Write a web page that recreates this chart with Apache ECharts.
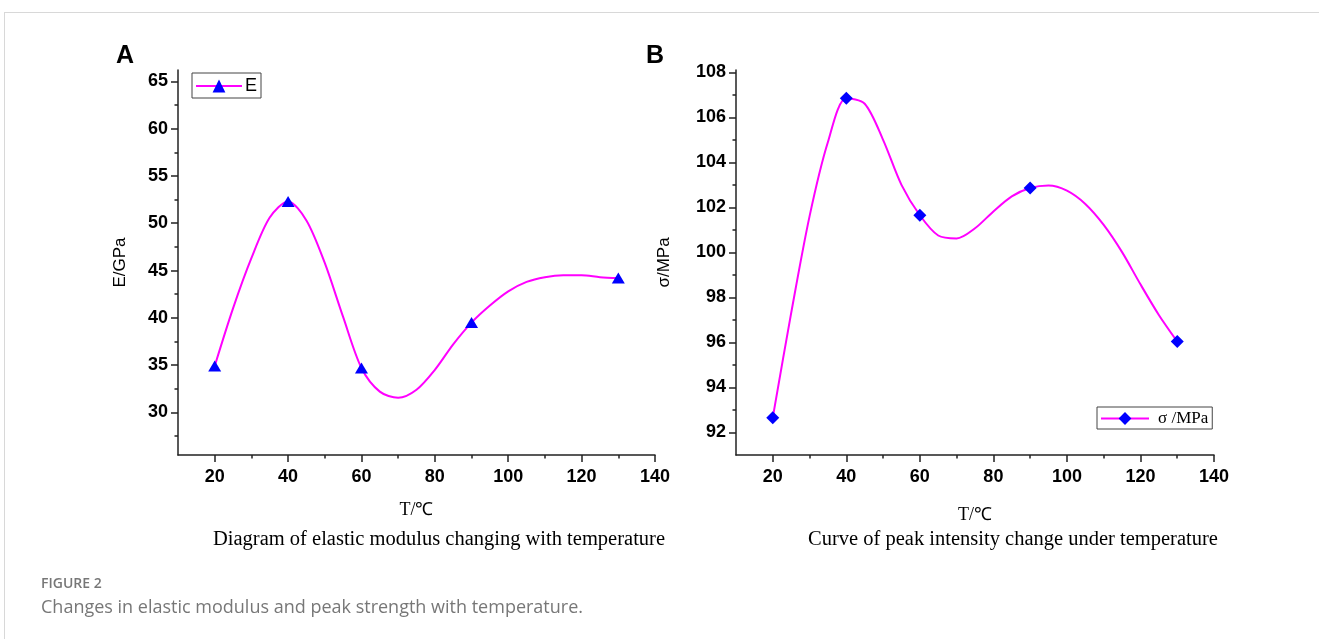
<!DOCTYPE html>
<html>
<head>
<meta charset="utf-8">
<script src="https://cdn.jsdelivr.net/npm/echarts@6/dist/echarts.min.js"></script>
<style>
  html, body { margin: 0; padding: 0; background: #fff; }
  #frame { position: absolute; left: 4px; top: 12px; right: 0; bottom: 0; border-top: 1px solid #d8d8d8; border-left: 1px solid #d8d8d8; }
  #main { position: absolute; left: 0; top: 0; width: 1319px; height: 639px; }
</style>
</head>
<body>
<div id="frame"></div>
<div id="main"></div>
<script>
// measured points
var tempA = [20, 40, 60, 90, 130]
var modulusE = [34.9, 52.3, 34.7, 39.5, 44.2]
var tempB = [20, 40, 60, 90, 130]
var peakStrength = [92.66, 106.84, 101.65, 102.86, 96.04]

var curveTempA = [25, 30, 35, 45, 50, 55, 65, 70, 75, 80, 85, 95, 100, 105, 110, 115, 120, 125]
var curveE = [41.0, 46.3, 50.6, 50.3, 45.8, 40.1, 32.2, 31.55, 32.4, 34.5, 37.2, 41.3, 42.8, 43.8, 44.3, 44.5, 44.5, 44.3]
var curveTempB = [25, 30, 35, 45, 50, 55, 65, 70, 75, 80, 85, 95, 100, 105, 110, 115, 120, 125]
var curveSigma = [97.3, 101.6, 104.9, 106.6, 105.0, 103.0, 100.75, 100.62, 101.07, 101.82, 102.49, 102.97, 102.74, 102.15, 101.22, 100.01, 98.58, 97.22]

// axis ticks
var xMajor = [20, 40, 60, 80, 100, 120, 140]
var xMinor = [30, 50, 70, 90, 110, 130]
var yMajorA = [30, 35, 40, 45, 50, 55, 60, 65]
var yMinorA = [27.5, 32.5, 37.5, 42.5, 47.5, 52.5, 57.5, 62.5]
var yMajorB = [92, 94, 96, 98, 100, 102, 104, 106, 108]
var yMinorB = [93, 95, 97, 99, 101, 103, 105, 107]

function mergeLine (px, py, cx, cy) {
  var pts = []
  px.forEach(function (x, i) { pts.push({ value: [x, py[i]] }) })
  cx.forEach(function (x, i) { pts.push({ value: [x, cy[i]], symbol: 'none' }) })
  pts.sort(function (a, b) { return a.value[0] - b.value[0] })
  return pts
}

var axisColor = '#222'
var labelFont = { fontFamily: 'Liberation Sans, Arial', fontWeight: 'bold', fontSize: 18, color: '#000' }

function majorX (grid, nameGap) {
  return {
    type: 'value', gridIndex: grid, min: 10, max: 140, position: 'bottom',
    name: 'T/℃', nameLocation: 'middle', nameGap: nameGap,
    nameTextStyle: { fontFamily: 'Liberation Serif, serif', fontSize: 18, color: '#000' },
    axisLine: { show: true, lineStyle: { color: axisColor, width: 1.5 } },
    axisTick: { show: true, length: 7, customValues: xMajor, lineStyle: { color: axisColor, width: 1.5 } },
    axisLabel: Object.assign({ customValues: xMajor, margin: 13 }, labelFont),
    splitLine: { show: false }
  }
}
function minorX (grid) {
  return {
    type: 'value', gridIndex: grid, min: 10, max: 140, position: 'bottom',
    axisLine: { show: false },
    axisTick: { show: true, length: 3.5, customValues: xMinor, lineStyle: { color: axisColor, width: 1.5 } },
    axisLabel: { show: false },
    splitLine: { show: false }
  }
}
function majorY (grid, min, max, ticks, name, nameGap) {
  return {
    type: 'value', gridIndex: grid, min: min, max: max, position: 'left',
    name: name, nameLocation: 'middle', nameGap: nameGap,
    nameTextStyle: { fontFamily: 'Liberation Sans, Arial', fontSize: 17, color: '#000' },
    axisLine: { show: true, lineStyle: { color: axisColor, width: 1.5 } },
    axisTick: { show: true, length: 7, customValues: ticks, lineStyle: { color: axisColor, width: 1.5 } },
    axisLabel: Object.assign({ customValues: ticks, margin: 10 }, labelFont),
    splitLine: { show: false }
  }
}
function minorY (grid, min, max, ticks) {
  return {
    type: 'value', gridIndex: grid, min: min, max: max, position: 'left',
    axisLine: { show: false },
    axisTick: { show: true, length: 3.5, customValues: ticks, lineStyle: { color: axisColor, width: 1.5 } },
    axisLabel: { show: false },
    splitLine: { show: false }
  }
}

var chart = echarts.init(document.getElementById('main'), null, { renderer: 'canvas' })

var option = {
  animation: false,
  title: [
    { text: 'A', left: 111, top: 39, textStyle: { fontFamily: 'Liberation Sans, Arial', fontWeight: 'bold', fontSize: 25, color: '#000' } },
    { text: 'B', left: 641, top: 39, textStyle: { fontFamily: 'Liberation Sans, Arial', fontWeight: 'bold', fontSize: 25, color: '#000' } },
    { text: 'Diagram of elastic modulus changing with temperature', left: 434, top: 524, textAlign: 'center',
      textStyle: { fontFamily: 'Liberation Serif, serif', fontWeight: 'normal', fontSize: 20.5, color: '#000' } },
    { text: 'Curve of peak intensity change under temperature', left: 1008, top: 524, textAlign: 'center',
      textStyle: { fontFamily: 'Liberation Serif, serif', fontWeight: 'normal', fontSize: 20.5, color: '#000' } },
    { text: 'FIGURE 2', left: 36, top: 572, textStyle: { fontFamily: 'Open Sans', fontWeight: 600, fontSize: 14, color: '#777' } },
    { text: 'Changes in elastic modulus and peak strength with temperature.', left: 36, top: 594,
      textStyle: { fontFamily: 'Open Sans', fontWeight: 'normal', fontSize: 18, color: '#777' } }
  ],
  legend: [
    {
      data: ['E'], left: 192, top: 73, orient: 'vertical',
      borderColor: '#444', borderWidth: 1, borderRadius: 0, padding: [4, 4, 3, 3],
      itemWidth: 46, itemHeight: 16, itemGap: 0,
      textStyle: { fontFamily: 'Liberation Sans, Arial', fontSize: 18, color: '#000', padding: [0, 0, 0, -2] }
    },
    {
      data: ['σ /MPa'], left: 1097, top: 407, orient: 'vertical',
      borderColor: '#444', borderWidth: 1, borderRadius: 0, padding: [3, 4, 2, 3],
      itemWidth: 48, itemHeight: 16, itemGap: 0,
      textStyle: { fontFamily: 'Liberation Serif, serif', fontSize: 17, color: '#000', padding: [0, 0, 0, 4] }
    }
  ],
  grid: [
    { left: 178, top: 70, width: 477, height: 385 },
    { left: 736, top: 70, width: 478, height: 385 }
  ],
  xAxis: [majorX(0, 46), minorX(0), majorX(1, 51), minorX(1)],
  yAxis: [
    majorY(0, 25.5, 66.2, yMajorA, 'E/GPa', 49),
    minorY(0, 25.5, 66.2, yMinorA),
    majorY(1, 91, 108.1, yMajorB, 'σ/MPa', 63),
    minorY(1, 91, 108.1, yMinorB)
  ],
  series: [
    {
      name: 'E', type: 'line', xAxisIndex: 0, yAxisIndex: 0,
      data: mergeLine(tempA, modulusE, curveTempA, curveE),
      smooth: 0.3, symbol: 'triangle', symbolSize: [13, 11], showSymbol: true, showAllSymbol: true,
      lineStyle: { color: '#ff00ff', width: 2 },
      itemStyle: { color: '#0000ff' },
      z: 5
    },
    {
      name: 'σ /MPa', type: 'line', xAxisIndex: 2, yAxisIndex: 2,
      data: mergeLine(tempB, peakStrength, curveTempB, curveSigma),
      smooth: 0.3, symbol: 'diamond', symbolSize: 13, showSymbol: true, showAllSymbol: true,
      lineStyle: { color: '#ff00ff', width: 2 },
      itemStyle: { color: '#0000ff' },
      z: 5
    }
  ]
}

chart.setOption(option)
</script>
</body>
</html>
